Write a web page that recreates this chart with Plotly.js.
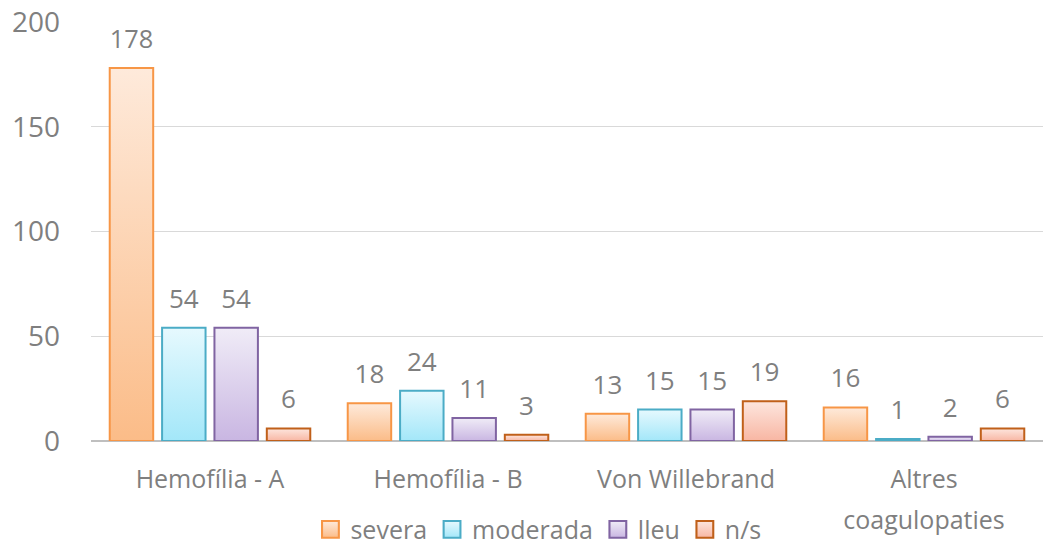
<!DOCTYPE html>
<html>
<head>
<meta charset="utf-8">
<script src="https://cdn.plot.ly/plotly-3.0.1.min.js"></script>
<style>html,body{margin:0;padding:0;background:#fff;}#chart{width:1043px;height:546px;}</style>
</head>
<body>
<div id="chart"></div>
<script>
const categories = ["Hemofília - A", "Hemofília - B", "Von Willebrand", "Altres<br>coagulopaties"];
const seriesNames = ["severa", "moderada", "lleu", "n/s"];
const severa = [178, 18, 13, 16];
const moderada = [54, 24, 15, 1];
const lleu = [54, 11, 15, 2];
const ns = [6, 3, 19, 6];
const yTicks = [0, 50, 100, 150, 200];

const allValues = [severa, moderada, lleu, ns];
const fills = ["#FCD3B2", "#C6EFFB", "#DDD2EE", "#FBCFC2"];
const lines = ["#F79646", "#4BACC6", "#8064A2", "#C0601A"];
const grads = [["#FEEADB", "#FBBC88"], ["#E6F9FE", "#A3E7F9"], ["#F0ECF7", "#C9B6E2"], ["#FDE6DE", "#F8B6A3"]];
const font = "'Open Sans', 'DejaVu Sans', sans-serif";
const gray = "#7F7F7F";

const traces = allValues.map((vals, i) => ({
  type: "bar",
  name: seriesNames[i],
  x: categories,
  y: vals,
  text: vals.map(String),
  textposition: "outside",
  cliponaxis: false,
  textfont: {family: font, size: 26, color: gray},
  marker: {color: fills[i], line: {color: lines[i], width: 2}},
  hoverinfo: "none"
}));

const layout = {
  width: 1043, height: 546,
  margin: {l: 91, r: 0, t: 22, b: 105, autoexpand: false},
  paper_bgcolor: "#fff", plot_bgcolor: "#fff",
  barmode: "group",
  bargap: 0.12,
  bargroupgap: 0.17,
  font: {family: font, color: gray},
  xaxis: {
    type: "category", automargin: false,
    showgrid: false, zeroline: false, showline: false,
    ticks: "", tickfont: {family: font, size: 25, color: gray},
    ticklabelstandoff: 21
  },
  yaxis: {
    range: [0, 200], automargin: false,
    tickvals: yTicks, ticktext: yTicks.map(String),
    showgrid: true, gridcolor: "#D9D9D9", gridwidth: 1.3,
    zeroline: true, zerolinecolor: "#BFBFBF", zerolinewidth: 2,
    showline: false, ticks: "",
    tickfont: {family: font, size: 28, color: gray},
    ticklabelstandoff: 30
  },
  showlegend: true,
  legend: {
    orientation: "h", x: 0.47, xanchor: "center",
    yref: "container", y: 0.03, yanchor: "middle",
    font: {family: font, size: 25, color: gray},
    itemwidth: 30, traceorder: "normal"
  }
};

function applyTweaks(gd) {
  const svg = gd.querySelector("svg.main-svg");
  const ns_ = "http://www.w3.org/2000/svg";
  let defs = svg.querySelector("defs");
  if (!defs) { defs = document.createElementNS(ns_, "defs"); svg.insertBefore(defs, svg.firstChild); }
  grads.forEach((g, i) => {
    const lg = document.createElementNS(ns_, "linearGradient");
    lg.setAttribute("id", "barGrad" + i);
    lg.setAttribute("x1", "0"); lg.setAttribute("y1", "0");
    lg.setAttribute("x2", "0"); lg.setAttribute("y2", "1");
    const s1 = document.createElementNS(ns_, "stop");
    s1.setAttribute("offset", "0"); s1.setAttribute("stop-color", g[0]);
    const s2 = document.createElementNS(ns_, "stop");
    s2.setAttribute("offset", "1"); s2.setAttribute("stop-color", g[1]);
    lg.appendChild(s1); lg.appendChild(s2); defs.appendChild(lg);
  });
  gd.querySelectorAll(".barlayer .trace.bars").forEach((tg, i) => {
    tg.querySelectorAll(".point path").forEach(p => { p.style.fill = "url(#barGrad" + i + ")"; });
    tg.querySelectorAll("text.bartext").forEach(t => {
      t.setAttribute("transform", "translate(0,-9) " + (t.getAttribute("transform") || ""));
    });
  });
  gd.querySelectorAll(".legend .traces").forEach((lt, i) => {
    lt.querySelectorAll(".legendpoints path").forEach(p => {
      p.style.fill = "url(#barGrad" + i + ")";
      p.setAttribute("transform", (p.getAttribute("transform") || "") + " scale(1.4)");
      p.style.strokeWidth = "1.5px";
    });
  });
  gd.querySelectorAll(".xtick text tspan.line").forEach((ts, k) => {
    if (k > 0 && ts.getAttribute("dy")) ts.setAttribute("dy", "1.65em");
  });
}

const gd = document.getElementById("chart");
Plotly.newPlot(gd, traces, layout, {staticPlot: true, displayModeBar: false}).then(() => applyTweaks(gd));
</script>
</body>
</html>
